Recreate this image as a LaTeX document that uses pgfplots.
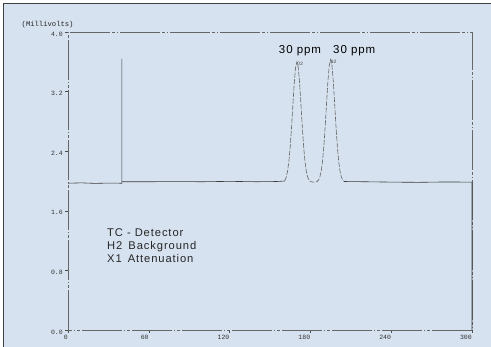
\documentclass[border=0pt]{standalone}
\usepackage{fontspec}
\setmainfont{Liberation Sans}
\newfontfamily\mono{Liberation Mono}
\newfontfamily\spaced[LetterSpace=8]{Liberation Sans}
\usepackage{pgfplots}
\pgfplotsset{compat=1.18}
\definecolor{bgblue}{RGB}{214,226,240}
\definecolor{ink}{RGB}{60,60,60}
\begin{document}
\begin{tikzpicture}[x=1pt,y=1pt]
\fill[white] (0,0) rectangle (491,347);
\fill[bgblue] (3.5,0) rectangle (491,343.5);
\draw[black!75,line width=1pt] (3.5,0) -- (3.5,343.5) -- (491,343.5);
\begin{axis}[
  at={(68pt,17pt)}, anchor=south west,
  scale only axis, width=404pt, height=298pt,
  xmin=0, xmax=300, ymin=0, ymax=4,
  axis line style={draw=black!60, line width=0.6pt, dash pattern=on 40pt off 2pt on 3pt off 2pt on 1pt off 2pt},
  xtick={0,60,120,180,240,300},
  xticklabels={0,60,120,180,240,300},
  ytick={0,0.8,1.6,2.4,3.2,4.0},
  yticklabels={0.0,0.8,1.6,2.4,3.2,4.0},
  /pgf/number format/assume math mode=true,
  tick align=outside, major tick length=3pt,
  tick style={draw=black!70, line width=0.5pt},
  xtick pos=bottom, ytick pos=left,
  xticklabel style={font=\mono\fontsize{6.5}{7}\selectfont, anchor=north east, inner xsep=0pt, inner ysep=1.5pt, text=black!80},
  yticklabel style={font=\mono\fontsize{6.5}{7}\selectfont, anchor=east, yshift=-2pt, inner xsep=2pt, text=black!80},
  clip=false,
]
\addplot[ink, line width=0.6pt] coordinates {
(0,1.97) (10,1.975) (20,1.968) (30,1.972) (40,1.97) (40,3.64) (40,1.99)
(60,1.99) (80,1.992) (100,1.99) (120,1.995) (140,1.99) (155,1.993) (161,2.0)
};
\addplot[black!60, line width=0.6pt, dash pattern=on 5pt off 1.5pt] coordinates {
(161,2.0) (162,2.051) (163,2.127) (164,2.259) (165,2.458) (166,2.722) (167,3.023)
(168,3.313) (169,3.522) (170,3.60) (171,3.522) (172,3.313) (173,3.023) (174,2.722)
(175,2.458) (176,2.259) (177,2.127) (178,2.051) (179,2.011) (180,1.992)
(182,1.985) (184,1.985) (185,1.993) (186,2.011) (187,2.053) (188,2.130) (189,2.264)
(190,2.467) (191,2.736) (192,3.043) (193,3.338) (194,3.551) (195,3.63) (196,3.551)
(197,3.338) (198,3.043) (199,2.736) (200,2.467) (201,2.264) (202,2.130) (203,2.053)
(204,2.011) (205,1.993)
};
\addplot[ink, line width=0.6pt] coordinates {
(205,1.993) (220,1.99) (240,1.985) (260,1.982) (280,1.987) (299,1.985) (300,1.985) (300,0.0)
};
\end{axis}
\node[font=\mono\fontsize{7.2}{8}\selectfont, anchor=base west, inner sep=0pt, text=black!85] at (21.5,320) {(Millivolts)};
\node[font=\spaced\fontsize{11.5}{13}\selectfont, anchor=base, inner sep=0pt] at (300,293.7) {30 ppm};
\node[font=\spaced\fontsize{11.5}{13}\selectfont, anchor=base west, inner sep=0pt] at (333,293.7) {30 ppm};
\node[font=\mono\fontsize{5}{6}\selectfont, anchor=base west, inner sep=0pt, text=black!70] at (297,281) {O2};
\node[font=\mono\fontsize{5}{6}\selectfont, anchor=base west, inner sep=0pt, text=black!70] at (330.5,283) {N2};
\node[font=\spaced\fontsize{11.2}{13}\selectfont, anchor=base west, inner sep=0pt, text=black!85] at (107,110.3) {TC - Detector};
\node[font=\spaced\fontsize{11.2}{13}\selectfont, anchor=base west, inner sep=0pt, text=black!85] at (107,97.5) {H2\hspace{6pt}Background};
\node[font=\spaced\fontsize{11.2}{13}\selectfont, anchor=base west, inner sep=0pt, text=black!85] at (107,84) {X1\hspace{6pt}Attenuation};
\pgfresetboundingbox
\path (0,0) rectangle (491,347);
\end{tikzpicture}
\end{document}
